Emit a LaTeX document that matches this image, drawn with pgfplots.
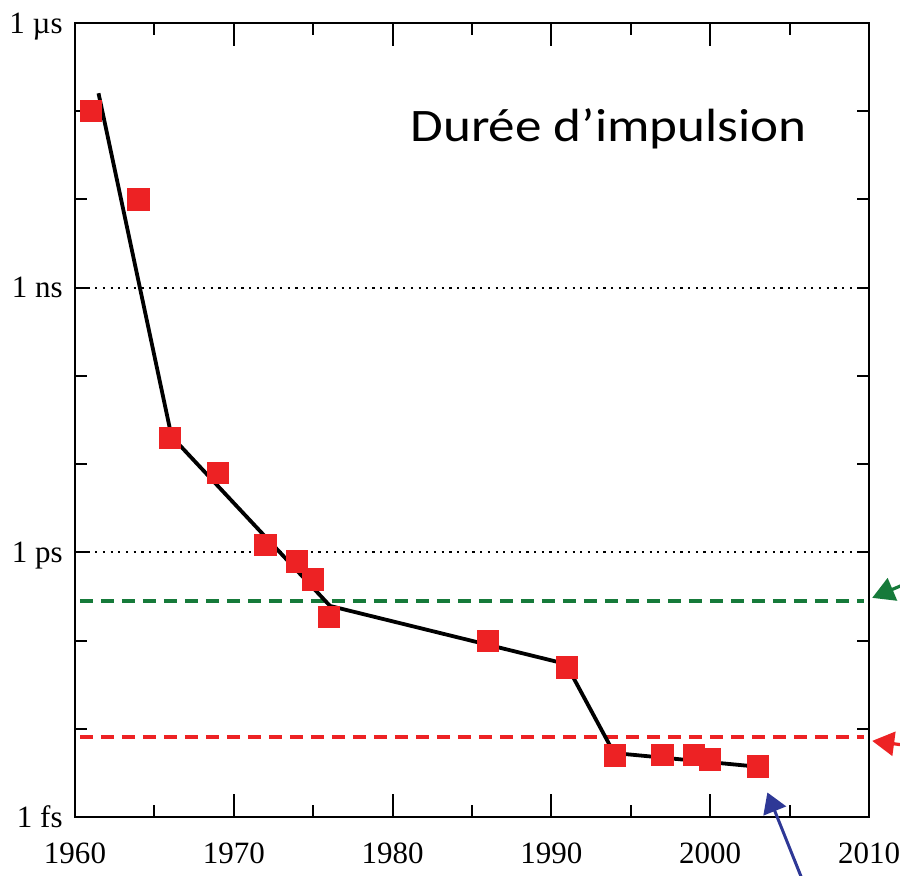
\documentclass[border=0pt]{standalone}
\usepackage{fontspec}
\setmainfont{Liberation Serif}
\newfontfamily\carlito[FakeStretch=1.14]{Carlito}
\usepackage{pgfplots}
\pgfplotsset{compat=1.18}
\usetikzlibrary{arrows.meta}
\definecolor{myred}{RGB}{237,34,36}
\definecolor{mygreen}{RGB}{22,122,58}
\definecolor{myblue}{RGB}{46,56,150}
\begin{document}
\begin{tikzpicture}
\begin{axis}[
  name=ax,
  scale only axis,
  width=397pt, height=397pt,
  xmin=1960, xmax=2010,
  ymode=log, ymin=1e-15, ymax=1e-6,
  xtick={1960,1970,1980,1990,2000,2010},
  xticklabels={\textrm{1960},\textrm{1970},\textrm{1980},\textrm{1990},\textrm{2000},\textrm{2010}},
  minor x tick num=1,
  ytick={1e-15,1e-14,1e-13,1e-12,1e-11,1e-10,1e-9,1e-8,1e-7,1e-6},
  yticklabels={1 fs,,,1 ps,,,1 ns,,,1 µs},
  yminorticks=false,
  tick align=inside,
  axis line style={line width=1pt, black},
  every tick/.style={black, line width=1pt},
  major tick length=11.5pt,
  minor tick length=6pt,
  ytick style={/pgfplots/major tick length=6pt},
  tick label style={font=\rmfamily\fontsize{15.5}{18}\selectfont},
  xticklabel style={anchor=north, inner sep=0pt, yshift=-12.5pt},
  yticklabel style={anchor=base east, inner sep=0pt, xshift=-6pt, yshift=-5pt},
  clip=false,
]
% reference lines
\addplot[black, line width=1.1pt, dash pattern=on 1.1pt off 2.75pt] coordinates {(1960.3,1e-9) (2010,1e-9)};
\addplot[black, line width=1.1pt, dash pattern=on 1.1pt off 2.75pt] coordinates {(1960.3,1e-12) (2010,1e-12)};
\addplot[mygreen, line width=2pt, dash pattern=on 6.5pt off 4pt] coordinates {(1960.3,2.79e-13) (2009.7,2.79e-13)};
\addplot[myred, line width=2pt, dash pattern=on 6.5pt off 4pt] coordinates {(1960.3,8.05e-15) (2009.7,8.05e-15)};
% data squares
\addplot[only marks, color=myred, mark=square*, mark size=5.3pt, mark options={solid, fill=myred, draw=myred, line width=0pt}] coordinates {
(1961,1e-7) (1964,1e-8) (1966,1.98e-11) (1969,7.9e-12) (1972,1.2e-12)
(1974,7.9e-13) (1975,4.93e-13) (1976,1.87e-13) (1986,9.8e-14) (1991,4.95e-14)
(1994,4.98e-15) (1997,5e-15) (1999,5e-15) (2000,4.49e-15) (2003,3.74e-15)};
% trend line
\addplot[black, line width=1.9pt, mark=none] coordinates {
(1961.48,1.6e-7) (1966.08,2.06e-11) (1976.06,2.47e-13) (1990.92,5.43e-14) (1993.94,5.32e-15) (2003.2,3.69e-15)};
\node[anchor=base, font=\carlito\fontsize{23.3}{28}\selectfont] at (axis cs:1993.6,4.5e-8) {Durée d’impulsion};
% arrows
\draw[mygreen, line width=1.6pt, -{Triangle[length=11pt,width=12pt]}] (axis cs:2012.3,4.4e-13) -- (axis cs:2010.2,3.05e-13);
\draw[myred, line width=1.6pt, -{Triangle[length=11pt,width=12pt]}] (axis cs:2012.3,6.5e-15) -- (axis cs:2010.2,7.3e-15);
\draw[myblue, line width=1.5pt, -{Triangle[length=10pt,width=12pt]}] (axis cs:2005.8,1.95e-16) -- (axis cs:2003.6,1.9e-15);
\end{axis}
\pgfresetboundingbox
\path[use as bounding box] ([xshift=-37.5pt,yshift=-29pt]ax.south west) rectangle ([xshift=15.5pt,yshift=11.5pt]ax.north east);
\end{tikzpicture}
\end{document}
